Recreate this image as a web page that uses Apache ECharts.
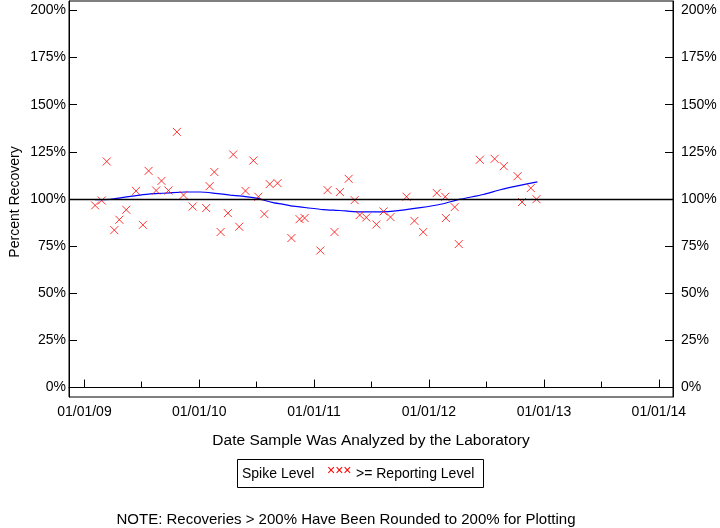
<!DOCTYPE html>
<html>
<head>
<meta charset="utf-8">
<script src="https://cdn.jsdelivr.net/npm/echarts@6/dist/echarts.min.js"></script>
<style>
  html, body { margin: 0; padding: 0; background: #fff; }
  #chart { width: 720px; height: 528px; }
</style>
</head>
<body>
<div id="chart"></div>
<script>
// spike recoveries (date analyzed, percent)
const sampleDates = [
  '2009-02-04', '2009-02-25', '2009-03-13', '2009-04-06', '2009-04-22', '2009-05-14', '2009-06-14', '2009-07-06',
  '2009-07-24', '2009-08-17', '2009-09-03', '2009-09-25', '2009-10-22', '2009-11-12', '2009-12-11',
  '2010-01-23', '2010-02-03', '2010-02-18', '2010-03-10', '2010-04-02', '2010-04-19', '2010-05-08', '2010-05-28',
  '2010-06-22', '2010-07-08', '2010-07-27', '2010-08-13', '2010-09-07', '2010-10-21', '2010-11-16', '2010-12-02',
  '2011-01-21', '2011-02-13', '2011-03-07', '2011-03-24', '2011-04-21', '2011-05-10', '2011-05-26', '2011-06-16',
  '2011-07-18', '2011-08-10', '2011-09-01', '2011-10-22', '2011-11-16', '2011-12-14',
  '2012-01-26', '2012-02-22', '2012-02-24', '2012-03-23', '2012-04-05', '2012-06-11', '2012-07-28', '2012-08-26',
  '2012-10-09', '2012-10-23', '2012-11-20', '2012-12-08'
]
const recovery = [
  96.6, 99.2, 119.9, 83.5, 89.0, 94.3, 104.3, 86.3, 114.9, 104.5, 109.6, 104.5, 135.6, 102.1, 96.0,
  95.2, 106.8, 114.3, 82.5, 92.5, 123.6, 85.3, 104.3, 120.4, 101.2, 92.0, 107.9, 108.4, 79.3, 89.3, 89.9,
  72.7, 104.7, 82.5, 103.7, 110.7, 99.4, 91.5, 90.2, 86.5, 93.4, 90.4, 101.2, 88.4, 82.5,
  103.2, 101.2, 89.9, 95.7, 76.1, 120.8, 121.3, 117.4, 112.1, 98.4, 105.8, 99.9
]

// smoothed trend (blue line)
const trendDates = [
  '2009-02-04', '2009-03-24', '2009-05-10', '2009-06-27', '2009-08-14', '2009-10-01', '2009-11-17',
  '2010-01-04', '2010-02-21', '2010-04-10', '2010-05-27', '2010-07-08', '2010-07-29', '2010-08-24',
  '2010-09-22', '2010-10-27', '2010-12-11', '2011-01-30', '2011-03-25', '2011-05-19', '2011-07-31',
  '2011-10-02', '2011-12-05', '2012-02-07', '2012-04-10', '2012-06-22', '2012-08-15', '2012-10-09', '2012-12-11'
]
const trendValues = [
  99.6, 99.8, 101.0, 102.1, 102.8, 103.3, 103.7,
  103.7, 103.0, 102.1, 101.3, 100.3, 99.2, 98.1,
  97.3, 96.2, 95.3, 94.4, 93.9, 93.2, 93.2,
  94.0, 95.4, 97.2, 99.9, 102.4, 104.9, 107.0, 109.1
]

const yearTicks = ['2009-01-01', '2010-01-01', '2011-01-01', '2012-01-01', '2013-01-01', '2014-01-01']
const halfYearTicks = ['2009-07-01', '2010-07-01', '2011-07-01', '2012-07-01', '2013-07-01']
const pctTicks = [0, 25, 50, 75, 100, 125, 150, 175, 200]

function ts(s) {
  const p = s.split('-').map(Number)
  return Date.UTC(p[0], p[1] - 1, p[2])
}
function fmtDate(v) {
  const d = new Date(v)
  const mm = String(d.getUTCMonth() + 1).padStart(2, '0')
  const dd = String(d.getUTCDate()).padStart(2, '0')
  const yy = String(d.getUTCFullYear() % 100).padStart(2, '0')
  return mm + '/' + dd + '/' + yy
}

const font = "'Liberation Sans', Arial, sans-serif"
const xMin = ts('2008-11-13')
const xMax = ts('2014-02-15')

const chart = echarts.init(document.getElementById('chart'))
chart.setOption({
  animation: false,
  textStyle: { fontFamily: font },
  grid: {
    left: 69, right: 47, top: 1, bottom: 131,
    show: true, borderColor: '#000', borderWidth: 1
  },
  xAxis: [{
    type: 'value',
    min: xMin,
    max: xMax,
    splitLine: { show: false },
    axisLine: { lineStyle: { color: '#000', width: 1 } },
    axisTick: { inside: true, length: 8, lineStyle: { color: '#000' }, customValues: yearTicks.map(ts) },
    axisLabel: {
      customValues: yearTicks.map(ts),
      formatter: fmtDate,
      color: '#000', fontSize: 14, fontFamily: font, margin: 8
    }
  }, {
    type: 'value',
    position: 'bottom',
    min: xMin,
    max: xMax,
    splitLine: { show: false },
    axisLine: { show: false },
    axisTick: { inside: true, length: 6, lineStyle: { color: '#000' }, customValues: halfYearTicks.map(ts) },
    axisLabel: { show: false }
  }],
  yAxis: [{
    type: 'value',
    min: -5,
    max: 205,
    splitLine: { show: false },
    axisLine: { show: true, lineStyle: { color: '#000' } },
    axisTick: { show: true, inside: true, length: 8, lineStyle: { color: '#000' }, customValues: pctTicks },
    axisLabel: {
      customValues: pctTicks,
      formatter: v => v + '%',
      color: '#000', fontSize: 14, fontFamily: font, margin: 3
    }
  }, {
    type: 'value',
    position: 'right',
    min: -5,
    max: 205,
    splitLine: { show: false },
    axisLine: { show: true, lineStyle: { color: '#000' } },
    axisTick: { show: true, inside: true, length: 8, lineStyle: { color: '#000' }, customValues: pctTicks },
    axisLabel: {
      customValues: pctTicks,
      formatter: v => v + '%',
      color: '#000', fontSize: 14, fontFamily: font, margin: 8
    }
  }],
  series: [{
    name: 'Trend',
    type: 'line',
    data: trendDates.map((d, i) => [ts(d), trendValues[i]]),
    showSymbol: false,
    smooth: 0.2,
    lineStyle: { color: '#0000ff', width: 1.2 },
    z: 3,
    markLine: {
      silent: true,
      symbol: 'none',
      label: { show: false },
      lineStyle: { color: '#000', type: 'solid', width: 1.3 },
      data: [{ yAxis: 100 }]
    }
  }, {
    name: 'Spike Level',
    type: 'scatter',
    data: sampleDates.map((d, i) => [ts(d), recovery[i]]),
    symbol: 'path://M0,0L10,10M10,0L0,10',
    symbolSize: 8,
    itemStyle: { color: 'rgba(0,0,0,0)', borderColor: '#ff0000', borderWidth: 1 },
    z: 4
  }],
  graphic: [
    {
      type: 'text', x: 15, y: 202, rotation: Math.PI / 2,
      style: { text: 'Percent Recovery', fontSize: 14, fontFamily: font, fill: '#000', textAlign: 'center', textVerticalAlign: 'middle' }
    },
    {
      type: 'text', x: 371, y: 441,
      style: { text: 'Date Sample Was Analyzed by the Laboratory', fontSize: 15.5, fontFamily: font, fill: '#000', textAlign: 'center', textVerticalAlign: 'middle' }
    },
    {
      type: 'rect', shape: { x: 237.5, y: 459.5, width: 246, height: 28 },
      style: { fill: '#fff', stroke: '#000', lineWidth: 1 }
    },
    {
      type: 'text', x: 242, y: 474,
      style: { text: 'Spike Level', fontSize: 14, fontFamily: font, fill: '#000', textVerticalAlign: 'middle' }
    },
    {
      type: 'text', x: 327, y: 471,
      style: { text: '×××', fontSize: 14, fontFamily: font, fill: '#ff0000', textVerticalAlign: 'middle' }
    },
    {
      type: 'text', x: 356, y: 474,
      style: { text: '>= Reporting Level', fontSize: 14, fontFamily: font, fill: '#000', textVerticalAlign: 'middle' }
    },
    {
      type: 'text', x: 346, y: 520,
      style: { text: 'NOTE: Recoveries > 200% Have Been Rounded to 200% for Plotting', fontSize: 15, fontFamily: font, fill: '#000', textAlign: 'center', textVerticalAlign: 'middle' }
    }
  ]
})
</script>
</body>
</html>
